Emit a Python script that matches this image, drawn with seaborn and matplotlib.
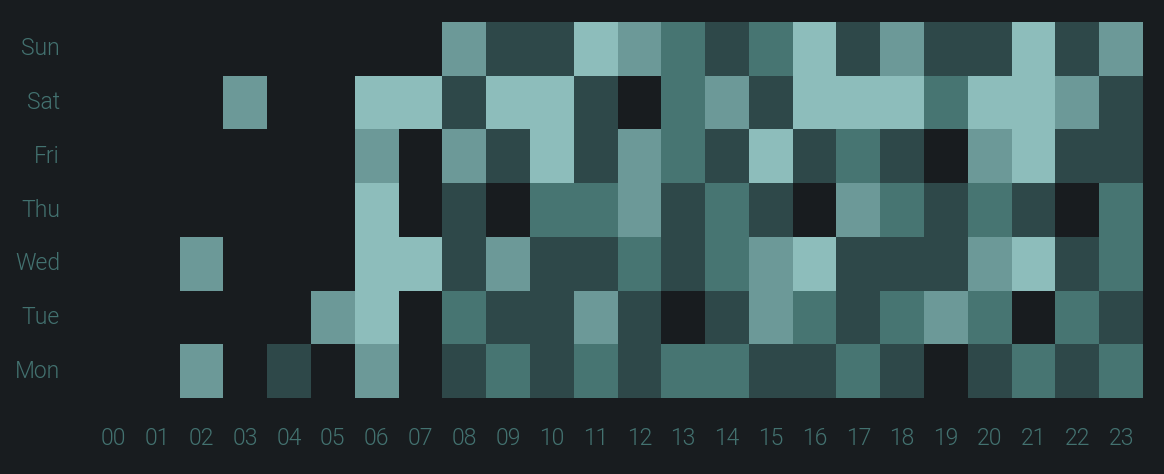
import numpy as np
import pandas as pd
import seaborn as sns
import matplotlib.pyplot as plt
from matplotlib.colors import ListedColormap

# activity level per hour (0 = none, 4 = most)
hours = [f"{h:02d}" for h in range(24)]
days = ["Sun", "Sat", "Fri", "Thu", "Wed", "Tue", "Mon"]

sun = [0, 0, 0, 0, 0, 0, 0, 0, 3, 1, 1, 4, 3, 2, 1, 2, 4, 1, 3, 1, 1, 4, 1, 3]
sat = [0, 0, 0, 3, 0, 0, 4, 4, 1, 4, 4, 1, 0, 2, 3, 1, 4, 4, 4, 2, 4, 4, 3, 1]
fri = [0, 0, 0, 0, 0, 0, 3, 0, 3, 1, 4, 1, 3, 2, 1, 4, 1, 2, 1, 0, 3, 4, 1, 1]
thu = [0, 0, 0, 0, 0, 0, 4, 0, 1, 0, 2, 2, 3, 1, 2, 1, 0, 3, 2, 1, 2, 1, 0, 2]
wed = [0, 0, 3, 0, 0, 0, 4, 4, 1, 3, 1, 1, 2, 1, 2, 3, 4, 1, 1, 1, 3, 4, 1, 2]
tue = [0, 0, 0, 0, 0, 3, 4, 0, 2, 1, 1, 3, 1, 0, 1, 3, 2, 1, 2, 3, 2, 0, 2, 1]
mon = [0, 0, 3, 0, 1, 0, 3, 0, 1, 2, 1, 2, 1, 2, 2, 1, 1, 2, 1, 0, 1, 2, 1, 2]

bg = "#181c1f"
text_col = "#437270"
level_colors = ["#2e4849", "#477572", "#6c9998", "#8dbdbb"]

df = pd.DataFrame([sun, sat, fri, thu, wed, tue, mon], index=days, columns=hours)

plt.rcParams["font.family"] = ["Roboto", "DejaVu Sans"]

fig = plt.figure(figsize=(11.64, 4.74), dpi=100, facecolor=bg)
ax = fig.add_axes([0.079, 0.1603, 0.903, 0.7933])
ax.set_facecolor(bg)

sns.heatmap(df, mask=(df == 0), cmap=ListedColormap(level_colors),
            vmin=0.5, vmax=4.5, cbar=False, ax=ax, linewidths=0,
            xticklabels=True, yticklabels=True)

ax.tick_params(axis="both", length=0, colors=text_col, labelsize=16.5)
ax.tick_params(axis="x", pad=21)
ax.tick_params(axis="y", pad=23)
plt.setp(ax.get_xticklabels(), rotation=0, fontweight=300)
plt.setp(ax.get_yticklabels(), rotation=0, ha="right", fontweight=300)
ax.set_xlabel("")
ax.set_ylabel("")
for s in ax.spines.values():
    s.set_visible(False)

fig.savefig("out.png", facecolor=bg)
